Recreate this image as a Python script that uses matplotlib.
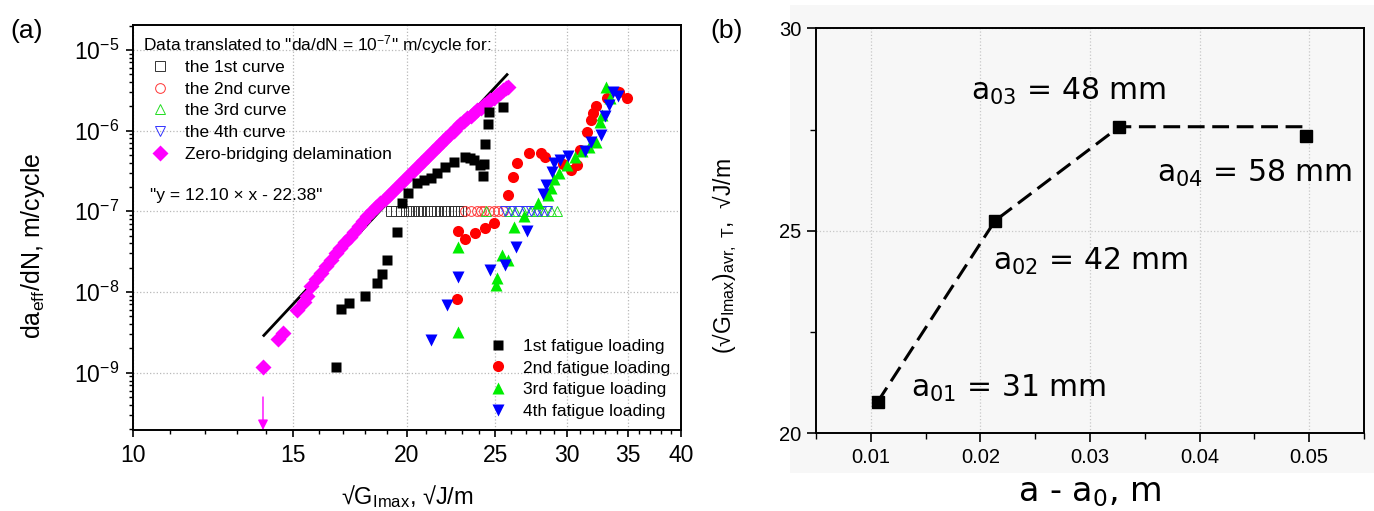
import matplotlib
matplotlib.use("Agg")
import numpy as np
import matplotlib.pyplot as plt
from matplotlib.patches import Rectangle
from matplotlib.ticker import FixedLocator, FixedFormatter, NullFormatter, MultipleLocator, FormatStrFormatter

plt.rcParams['font.family'] = ['Liberation Sans', 'DejaVu Sans']
plt.rcParams['mathtext.default'] = 'regular'

# ---------- (a) da/dN vs sqrt(G) ----------
# 1st fatigue loading
g1 = [16.7, 16.93, 17.27, 17.99, 18.53, 18.77, 19.03, 19.5, 19.74, 20.07, 20.5, 20.9, 21.26,
      21.6, 22.03, 22.54, 23.17, 23.43, 23.72, 24.03, 24.23, 24.33, 24.38, 24.53, 24.6, 25.47]
d1 = [1.17e-9, 6.1e-9, 7.4e-9, 8.8e-9, 1.31e-8, 1.67e-8, 2.5e-8, 5.6e-8, 1.25e-7, 1.7e-7, 2.23e-7,
      2.45e-7, 2.56e-7, 3.0e-7, 3.58e-7, 4.13e-7, 4.67e-7, 4.6e-7, 4.3e-7, 3.75e-7, 2.77e-7, 3.9e-7,
      6.8e-7, 1.21e-6, 1.72e-6, 1.95e-6]
# 2nd fatigue loading
g2 = [22.69, 22.78, 23.17, 23.77, 24.38, 24.93, 25.85, 26.18, 26.45, 27.2, 28.05, 28.37, 29.67,
      30.27, 30.73, 31.0, 31.52, 31.86, 32.05, 32.27, 33.16, 34.22, 34.87]
d2 = [8.1e-9, 5.75e-8, 4.54e-8, 5.33e-8, 6.15e-8, 7.1e-8, 1.59e-7, 2.69e-7, 3.94e-7, 5.33e-7,
      5.33e-7, 4.67e-7, 3.86e-7, 3.25e-7, 3.75e-7, 5.75e-7, 9.7e-7, 1.36e-6, 1.64e-6, 1.99e-6,
      2.52e-6, 2.96e-6, 2.52e-6]
# 3rd fatigue loading
g3 = [22.75, 22.78, 25.06, 25.14, 25.42, 25.85, 26.23, 26.92, 27.85, 28.56, 28.77, 29.02, 29.39,
      29.97, 30.6, 31.13, 31.66, 32.27, 32.6, 32.74, 33.11, 33.44]
d3 = [3.2e-9, 3.65e-8, 1.22e-8, 1.48e-8, 2.88e-8, 2.49e-8, 6.45e-8, 8.75e-8, 1.28e-7, 1.59e-7,
      1.93e-7, 2.49e-7, 3.01e-7, 3.75e-7, 4.67e-7, 5.5e-7, 6.34e-7, 7.3e-7, 1.29e-6, 1.56e-6,
      3.5e-6, 2.52e-6]
# 4th fatigue loading
g4 = [21.25, 22.13, 22.75, 24.69, 25.64, 26.36, 27.08, 28.18, 28.42, 28.85, 29.02, 29.46, 30.09,
      31.4, 31.84, 32.66, 33.03, 33.3, 33.67, 34.06]
d4 = [2.54e-9, 6.9e-9, 1.55e-8, 1.87e-8, 2.16e-8, 3.65e-8, 5.75e-8, 1.64e-7, 2.12e-7, 3.1e-7,
      3.94e-7, 4.33e-7, 4.85e-7, 5.5e-7, 7.3e-7, 8.8e-7, 1.52e-6, 2.08e-6, 3.04e-6, 2.64e-6]

# curves shifted to da/dN = 1e-7
shift_level = 1e-7
t1 = [19.2, 19.45, 19.7, 19.95, 20.1, 20.3, 20.55, 20.75, 20.9, 21.05, 21.2, 21.4, 21.6, 21.8,
      22.0, 22.2, 22.35, 22.55, 22.75, 22.95]
t2 = [23.15, 23.5, 23.9, 24.1, 24.3, 24.6, 24.9, 25.2, 25.5]
t3 = [24.45, 25.9, 26.3, 26.8, 27.3, 27.8, 28.3, 28.8, 29.2]
t4 = [25.65, 26.0, 26.5, 27.0, 27.4, 27.8, 28.1, 28.5]

# zero-bridging delamination
gz = [13.9, 14.45, 14.62, 15.14, 15.4, 15.53,
      15.7, 15.9, 16.1, 16.3, 16.5, 16.7, 16.9, 17.1, 17.3, 17.5, 17.7, 17.9, 18.1, 18.3, 18.5,
      18.7, 18.9, 19.1, 19.3, 19.5, 19.7, 19.9, 20.1, 20.3, 20.5, 20.7, 20.9, 21.1, 21.3, 21.5,
      21.7, 21.9, 22.1, 22.3, 22.5, 22.7, 22.9, 23.1, 23.3, 23.5, 23.7, 23.9, 24.1, 24.3, 24.5,
      24.7, 24.9, 25.1, 25.3, 25.5, 25.7, 25.85]
dz = [1.17e-9, 2.6e-9, 3.14e-9, 6.0e-9, 7.6e-9, 8.8e-9,
      1.2e-8, 1.45e-8, 1.74e-8, 2.09e-8, 2.5e-8, 3.0e-8, 3.55e-8, 4.2e-8, 4.85e-8, 5.6e-8, 6.6e-8,
      7.6e-8, 8.8e-8, 1.0e-7, 1.12e-7, 1.26e-7, 1.43e-7, 1.6e-7, 1.8e-7, 2.02e-7, 2.26e-7, 2.54e-7,
      2.84e-7, 3.16e-7, 3.53e-7, 3.94e-7, 4.37e-7, 4.86e-7, 5.4e-7, 6.0e-7, 6.65e-7, 7.36e-7,
      8.15e-7, 9.0e-7, 1.0e-6, 1.1e-6, 1.22e-6, 1.32e-6, 1.42e-6, 1.53e-6, 1.65e-6, 1.78e-6,
      1.91e-6, 2.06e-6, 2.22e-6, 2.38e-6, 2.56e-6, 2.75e-6, 2.95e-6, 3.16e-6, 3.4e-6, 3.5e-6]

# power-law fit: log10(y) = 12.10 * log10(x) - 22.38
fit_slope, fit_icpt = 12.10, -22.38
fit_range = [13.93, 25.76]

# ---------- (b) average sqrt(G) vs crack growth ----------
a_diff = [0.01063, 0.02134, 0.03268, 0.04973]
g_avr = [20.78, 25.25, 27.57, 27.34]
a0_labels = [r'a$_{01}$ = 31 mm', r'a$_{02}$ = 42 mm', r'a$_{03}$ = 48 mm', r'a$_{04}$ = 58 mm']
a0_label_pos = [(0.01364, 21.11), (0.02114, 24.24), (0.01911, 28.44), (0.0361, 26.42)]

fig = plt.figure(figsize=(13.74, 5.11), dpi=100)
fig.add_artist(Rectangle((790 / 1374, 1 - 473 / 511), 584 / 1374, 468 / 511,
                         transform=fig.transFigure, facecolor='#f7f7f7', edgecolor='none', zorder=-10))

ax = fig.add_axes([0.0966, 0.1585, 0.3991, 0.7926])
ax.set_xscale('log')
ax.set_yscale('log')
ax.set_xlim(10, 40)
ax.set_ylim(1.95e-10, 2.03e-5)

ax.grid(True, which='major', color='#b8b8b8', linestyle=':', linewidth=0.9)

fx = np.array(fit_range)
ax.plot(fx, 10 ** (fit_slope * np.log10(fx) + fit_icpt), color='black', lw=2.0, zorder=3)

hz, = ax.plot(gz, dz, 'D', color='#ff00ff', ms=8, mec='none', zorder=4,
              label='Zero-bridging delamination')
ax.annotate('', xy=(gz[0], 1.95e-10), xytext=(gz[0], 5.0e-10),
            arrowprops=dict(arrowstyle='-|>', color='#ff00ff', lw=1.0, mutation_scale=15,
                            shrinkA=0, shrinkB=0))

h1, = ax.plot(g1, d1, 's', color='black', ms=7.5, mec='none', zorder=5, label='1st fatigue loading')
h2, = ax.plot(g2, d2, 'o', color='#ff0000', ms=8, mec='none', zorder=5, label='2nd fatigue loading')
h3, = ax.plot(g3, d3, '^', color='#00ee00', ms=8.5, mec='none', zorder=5, label='3rd fatigue loading')
h4, = ax.plot(g4, d4, 'v', color='#0000ff', ms=8.5, mec='none', zorder=5, label='4th fatigue loading')

o1, = ax.plot(t1, [shift_level] * len(t1), 's', mfc='none', mec='#333333', mew=0.7, ms=6.5, label='the 1st curve')
o2, = ax.plot(t2, [shift_level] * len(t2), 'o', mfc='none', mec='#ff3333', mew=0.7, ms=7, label='the 2nd curve')
o3, = ax.plot(t3, [shift_level] * len(t3), '^', mfc='none', mec='#22dd22', mew=0.7, ms=7.5, label='the 3rd curve')
o4, = ax.plot(t4, [shift_level] * len(t4), 'v', mfc='none', mec='#3333ff', mew=0.7, ms=7.5, label='the 4th curve')

ax.xaxis.set_major_locator(FixedLocator([10, 15, 20, 25, 30, 35, 40]))
ax.xaxis.set_major_formatter(FixedFormatter(['10', '15', '20', '25', '30', '35', '40']))
ax.xaxis.set_minor_locator(FixedLocator([v for v in range(11, 40) if v % 5 != 0]))
ax.xaxis.set_minor_formatter(NullFormatter())
ax.yaxis.set_major_locator(matplotlib.ticker.LogLocator(base=10, numticks=20))
ax.yaxis.set_minor_locator(matplotlib.ticker.LogLocator(base=10, subs=np.arange(2, 10), numticks=20))
ax.yaxis.set_minor_formatter(NullFormatter())
ax.tick_params(which='major', direction='out', length=5, width=1.2, labelsize=16.5, pad=5)
ax.tick_params(which='minor', direction='out', length=3, width=1.0)
for s in ax.spines.values():
    s.set_linewidth(1.4)

ax.text(0.5, -0.165, '√G$_{Imax}$, √J/m', transform=ax.transAxes, ha='center', va='center', fontsize=17)
ax.set_ylabel('da$_{eff}$/dN, m/cycle', fontsize=18)
ax.yaxis.set_label_coords(-0.156, 0.455)

ax.text(0.032, 0.58, '"y = 12.10 × x - 22.38"', transform=ax.transAxes, ha='left', va='center', fontsize=12.5)

# legend header drawn separately so the gap to the first row stays tight
ax.text(0.018, 0.9506, 'Data translated to "da/dN = 10$^{-7}$" m/cycle for:', transform=ax.transAxes,
        ha='left', va='center', fontsize=12.5)
leg1 = ax.legend(handles=[o1, o2, o3, o4, hz], loc='upper left', bbox_to_anchor=(0.018, 0.914),
                 fontsize=12.5, frameon=False, borderpad=0, borderaxespad=0, labelspacing=0.38,
                 handlelength=2.0, handletextpad=0.45)
ax.add_artist(leg1)
ax.legend(handles=[h1, h2, h3, h4], loc='lower left', bbox_to_anchor=(0.635, 0.027),
          fontsize=12.5, frameon=False, borderpad=0, borderaxespad=0, labelspacing=0.38,
          handlelength=2.0, handletextpad=0.45)

# ---------- (b) ----------
ax2 = fig.add_axes([0.5939, 0.1520, 0.3988, 0.7926])
ax2.set_facecolor('none')
ax2.set_xlim(0.005, 0.055)
ax2.set_ylim(20, 30)
ax2.grid(True, which='major', color='#c8c8c8', linestyle=':', linewidth=0.9)

trend_y = g_avr[:3] + [g_avr[2]]
ax2.plot(a_diff, trend_y, color='black', lw=2.2, dashes=(5.5, 2.5), zorder=3)
ax2.plot(a_diff, g_avr, 's', color='black', ms=8, zorder=4)

for txt, (x, y) in zip(a0_labels, a0_label_pos):
    ax2.text(x, y, txt, fontsize=21.5, family='DejaVu Sans', ha='left', va='center')

ax2.xaxis.set_major_locator(MultipleLocator(0.01))
ax2.xaxis.set_minor_locator(MultipleLocator(0.005))
ax2.xaxis.set_major_formatter(FormatStrFormatter('%.2f'))
ax2.yaxis.set_major_locator(MultipleLocator(5))
ax2.yaxis.set_minor_locator(MultipleLocator(2.5))
ax2.tick_params(which='major', direction='out', length=6.5, width=1.2, labelsize=14.5, pad=4)
ax2.tick_params(which='minor', direction='out', length=4, width=1.0)
for s in ax2.spines.values():
    s.set_linewidth(1.4)

ax2.text(0.5, -0.147, 'a - a$_0$, m', transform=ax2.transAxes, ha='center', va='center',
         fontsize=24, family='DejaVu Sans')
ax2.set_ylabel('(√G$_{Imax}$)$_{avr,\\ T}$,  √J/m', fontsize=16.5)
ax2.yaxis.set_label_coords(-0.1405, 0.438)

fig.text(27 / 1374, 1 - 31 / 511, '(a)', fontsize=19, ha='center', va='center')
fig.text(727 / 1374, 1 - 31 / 511, '(b)', fontsize=19, ha='center', va='center')

fig.savefig('out.png', dpi=100)
